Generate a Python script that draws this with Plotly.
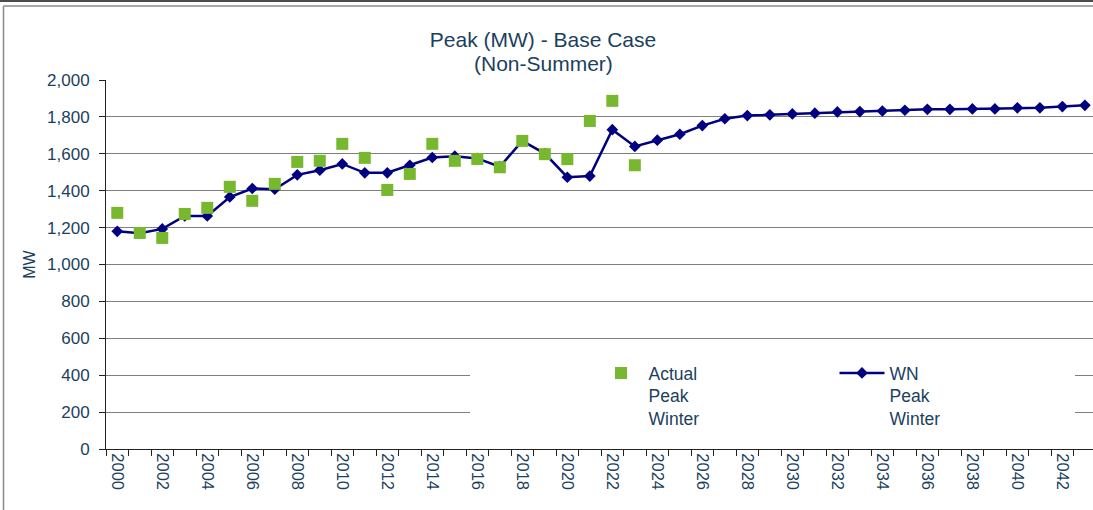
import plotly.graph_objects as go

# --- data ---
years = [str(y) for y in range(2000, 2044)]
wn_peak = [1180, 1170, 1193, 1263, 1263, 1366, 1412, 1408, 1486, 1511,
           1545, 1497, 1497, 1538, 1580, 1587, 1575, 1530, 1670, 1601,
           1473, 1479, 1731, 1640, 1674, 1706, 1753, 1790, 1807, 1811,
           1816, 1820, 1827, 1829, 1832, 1836, 1841, 1841, 1843, 1843,
           1849, 1849, 1856, 1863]
actual_years = [str(y) for y in range(2000, 2024)]
actual_peak = [1280, 1171, 1144, 1274, 1307, 1421, 1345, 1437, 1556, 1562,
               1654, 1578, 1404, 1491, 1654, 1562, 1572, 1527, 1670, 1598,
               1571, 1778, 1887, 1538]
tick_text = [y if int(y) % 2 == 0 else "" for y in years]
y_ticks = list(range(0, 2001, 200))

TEXT = "#1b3f60"
NAVY = "#000080"
GREEN = "#78b82f"
FONT = "Liberation Sans, Arial, sans-serif"

W, H = 1093, 510
# plot area in pixels (used to place the frame / legend backdrop)
L, R, T, B = 106, 1093, 80, 449
X_RANGE = [-0.5, 43.36]
Y_RANGE = [0, 2000]


def px_x(px):
    return (px - L) / (R - L)


def px_y(py):
    return (B - py) / (B - T)


def data_x(px):
    return X_RANGE[0] + px_x(px) * (X_RANGE[1] - X_RANGE[0])


def data_y(py):
    return Y_RANGE[0] + px_y(py) * (Y_RANGE[1] - Y_RANGE[0])


fig = go.Figure()

# WN line first so the actual squares sit on top
fig.add_trace(go.Scatter(
    x=years, y=wn_peak,
    mode='lines+markers',
    name='WN<br>Peak<br>Winter',
    line=dict(color=NAVY, width=2.5),
    marker=dict(symbol='diamond', size=9, color=NAVY),
))

fig.add_trace(go.Scatter(
    x=actual_years, y=actual_peak,
    mode='markers',
    name='Actual<br>Peak<br>Winter',
    marker=dict(symbol='square', size=12, color=GREEN),
))

fig.update_layout(
    width=W, height=H,
    margin=dict(l=L, r=W - R, t=T, b=H - B, autoexpand=False),
    paper_bgcolor='white',
    plot_bgcolor='white',
    font=dict(family=FONT, color=TEXT, size=16),
    title=dict(
        text='Peak (MW) - Base Case',
        x=543 / W, xanchor='center',
        y=1 - 40 / H, yanchor='middle',
        font=dict(size=21, color=TEXT),
    ),
    showlegend=True,
    legend=dict(
        orientation='h',
        traceorder='reversed',
        x=px_x(593.5), xanchor='left',
        y=px_y(355), yanchor='top',
        bgcolor='rgba(0,0,0,0)',
        entrywidth=181, entrywidthmode='pixels',
        itemwidth=45,
        valign='top',
        font=dict(size=17.5, color=TEXT),
    ),
    xaxis=dict(
        type='category',
        range=X_RANGE,
        tickmode='array',
        tickvals=years,
        ticktext=tick_text,
        tickson='boundaries',
        ticks='outside', ticklen=6, tickcolor='#222',
        tickangle=90,
        tickfont=dict(size=16.5, color=TEXT),
        showline=True, linecolor='#222', linewidth=1,
        showgrid=False, zeroline=False,
    ),
    yaxis=dict(
        range=Y_RANGE,
        tickvals=y_ticks,
        tickformat=',',
        ticks='outside', ticklen=6, tickcolor='#222',
        ticklabelstandoff=6,
        tickfont=dict(size=17, color=TEXT),
        showline=True, linecolor='#222', linewidth=1,
        showgrid=True, gridcolor='#7f7f7f', gridwidth=1,
        zeroline=False,
        title=dict(text='MW', font=dict(size=16, color=TEXT), standoff=7),
    ),
)

# second title line, set tighter than a <br> would give
fig.add_annotation(text='(Non-Summer)', xref='paper', yref='paper',
                   x=px_x(543), y=px_y(63), xanchor='center', yanchor='middle',
                   showarrow=False, font=dict(size=21, color=TEXT))

# white backdrop behind the legend hiding the gridlines
fig.add_shape(type='rect', xref='x', yref='y', layer='between',
              x0=data_x(470), x1=data_x(1075), y0=data_y(425), y1=data_y(352),
              fillcolor='white', line=dict(width=0))

# outer frame lines of the original chart
fig.add_shape(type='line', xref='paper', yref='paper',
              x0=px_x(0), x1=px_x(1100), y0=px_y(1), y1=px_y(1),
              line=dict(color='#111', width=1.5))
fig.add_shape(type='line', xref='paper', yref='paper',
              x0=px_x(3.5), x1=px_x(1100), y0=px_y(6), y1=px_y(6),
              line=dict(color='#8a8a8a', width=1.5))
fig.add_shape(type='line', xref='paper', yref='paper',
              x0=px_x(3.5), x1=px_x(3.5), y0=px_y(6), y1=px_y(520),
              line=dict(color='#8a8a8a', width=1.5))

# drop the browser's default body margin so the figure sits at the page corner
fig.write_html("out.html", config={'displayModeBar': False},
               post_script="document.body.style.margin='0';")
